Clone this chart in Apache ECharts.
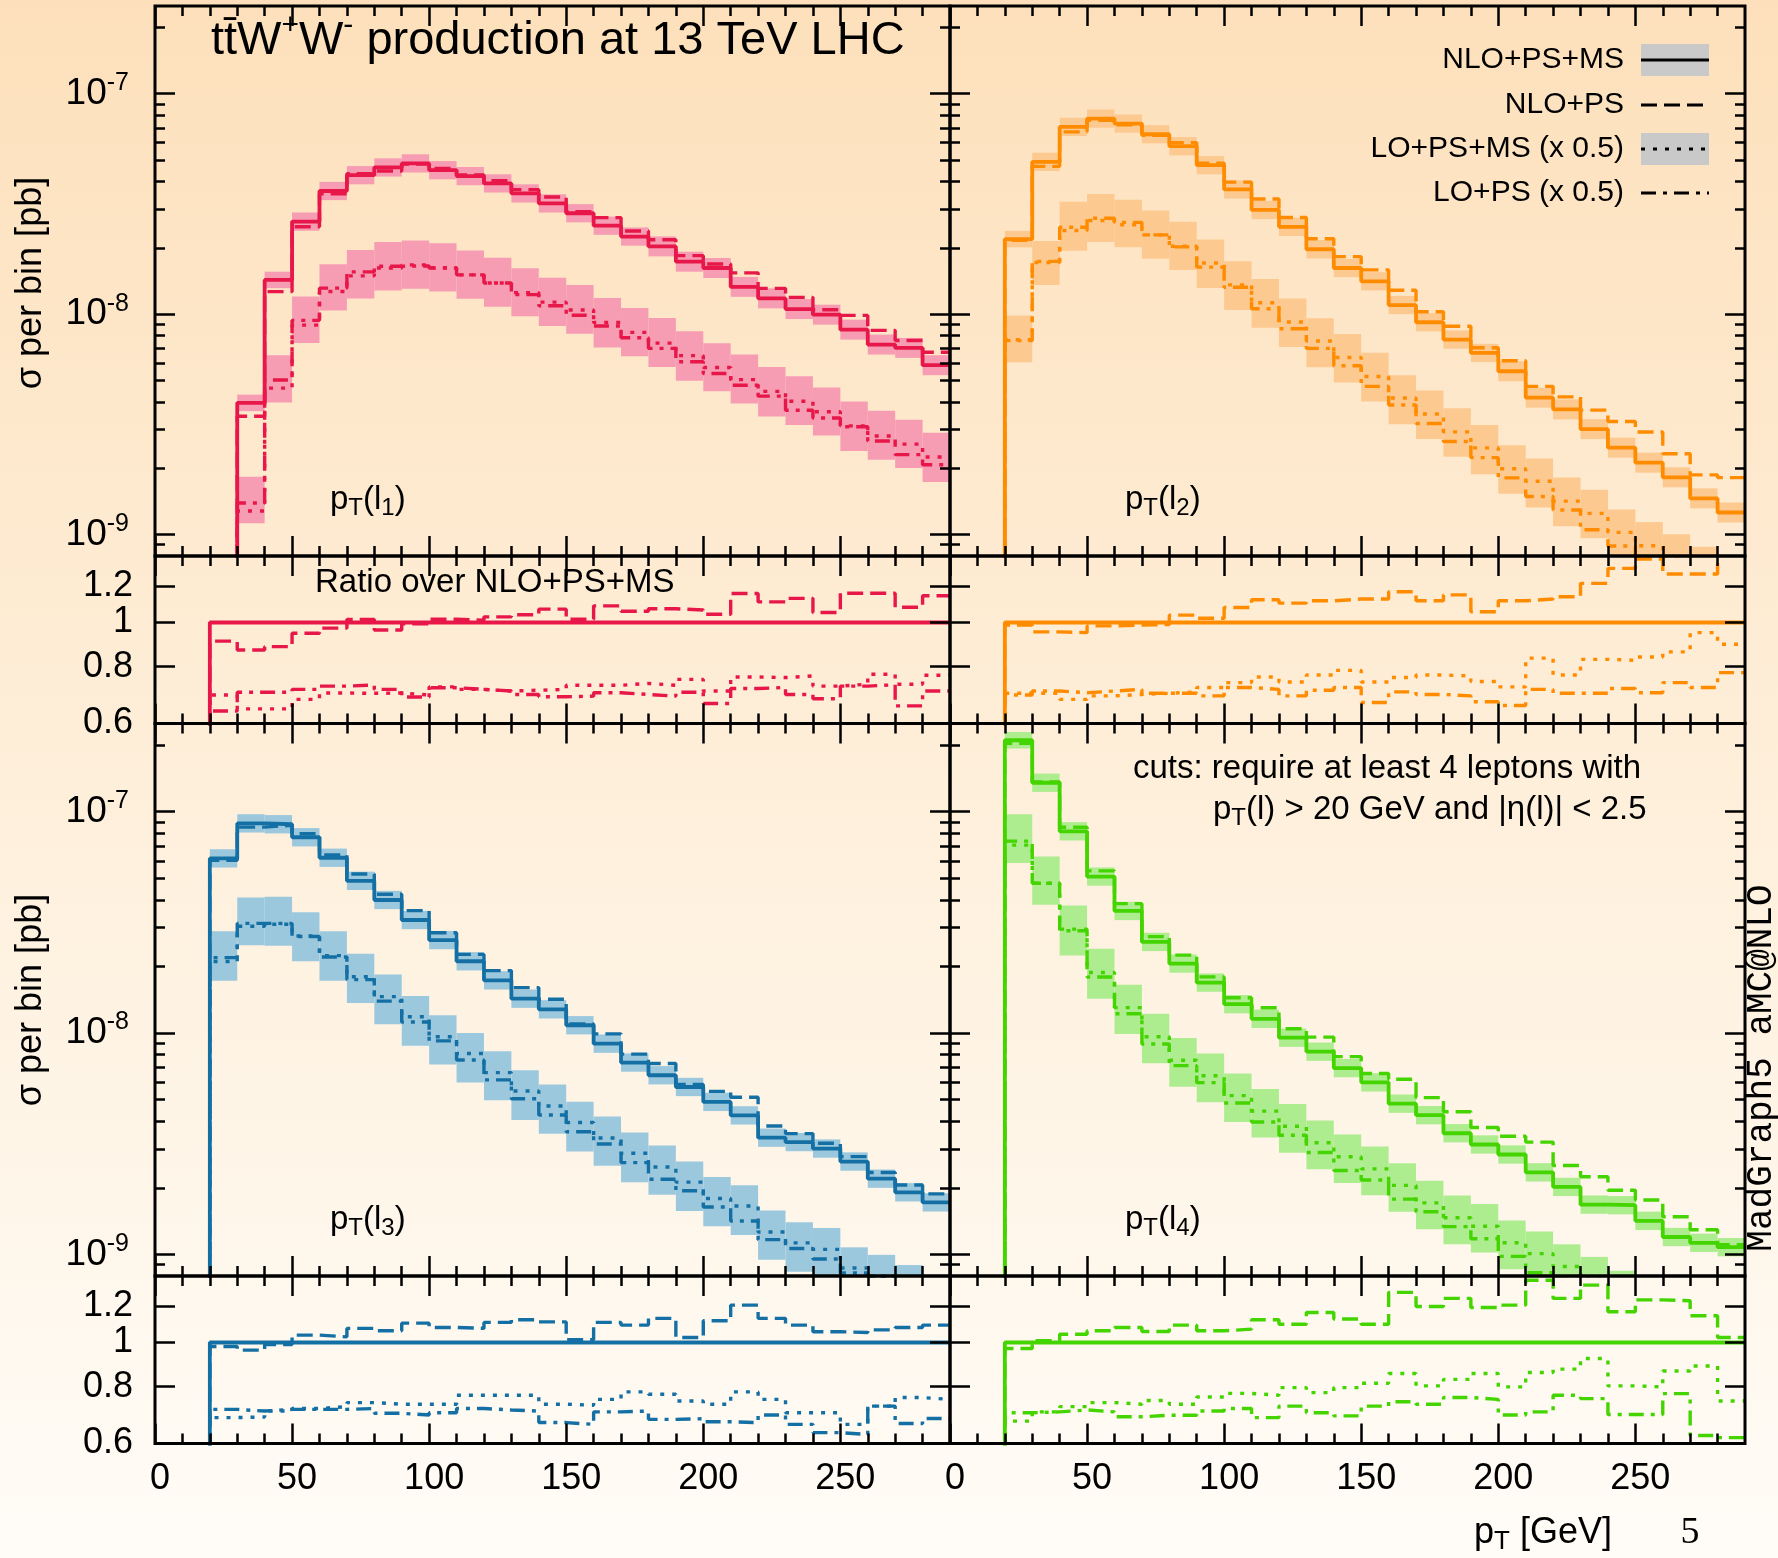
<!DOCTYPE html>
<html><head><meta charset="utf-8">
<script src="https://cdn.jsdelivr.net/npm/echarts@6/dist/echarts.min.js"></script>
<style>html,body{margin:0;padding:0;background:#fff}#c{width:1778px;height:1558px}</style>
</head><body><div id="c"></div>
<script>
// ---------------- data ----------------
const binEdges = [20,30,40,50,60,70,80,90,100,110,120,130,140,150,160,170,180,190,200,210,220,230,240,250,260,270,280,290];
const xTickLabels = [0,50,100,150,200,250];
const xMinorTicks = [10,20,30,40,60,70,80,90,110,120,130,140,160,170,180,190,210,220,230,240,260,270,280];
const yMainTicks = [1e-9,1e-8,1e-7];
const yMinorTicks = [9e-10,2e-9,3e-9,4e-9,5e-9,6e-9,7e-9,8e-9,9e-9,2e-8,3e-8,4e-8,5e-8,6e-8,7e-8,8e-8,9e-8,2e-7];
const yRatioTicks = [0.6,0.8,1,1.2];
const yMainRange = [8e-10,2.5e-7];
const yRatioRange = [0.6,1.4];
const xRange = [0,290];

// pT(l1)
const nloMS_l1 = [5e-10,3.96e-9,1.43e-8,2.63e-8,3.62e-8,4.27e-8,4.63e-8,4.83e-8,4.50e-8,4.23e-8,3.92e-8,3.53e-8,3.18e-8,2.87e-8,2.52e-8,2.25e-8,2.03e-8,1.73e-8,1.62e-8,1.33e-8,1.18e-8,1.055e-8,9.95e-9,8.51e-9,7.28e-9,7.03e-9,5.87e-9];
const rNLOPS_l1 = [0.91,0.87,0.885,0.947,0.972,1.015,0.963,0.993,1.017,1.012,1.029,1.04,1.07,1.017,1.088,1.059,1.072,1.065,1.043,1.158,1.11,1.13,1.052,1.16,1.16,1.08,1.145];
const rLOMS_l1 = [0.693,0.646,0.646,0.678,0.70,0.699,0.70,0.693,0.722,0.713,0.707,0.71,0.713,0.728,0.728,0.735,0.728,0.75,0.707,0.759,0.757,0.763,0.725,0.732,0.77,0.732,0.766];
const rLOPS_l1 = [0.639,0.703,0.703,0.713,0.725,0.729,0.713,0.686,0.719,0.713,0.707,0.695,0.687,0.689,0.701,0.695,0.689,0.703,0.664,0.716,0.72,0.695,0.68,0.725,0.73,0.656,0.707];
const nloErr_l1 = [10,9,9,10,10,10,10,10,10,10,10,10,10,10,10,10,11,11,11,11,11,11,11,11,11,11,11];
const loUp_l1 = [40,43,41,35,33,31,31,29,29,29,30,29,29,30,29,29,30,29,29,30,29,30,29,29,30,29,29];
const loDn_l1 = [12,12,14,17,18,21,21,22,22,22,22,22,22,22,23,22,22,23,22,22,23,22,22,23,22,22,23];

// pT(l2)
const nloMS_l2 = [2.19e-8,4.91e-8,7.07e-8,7.71e-8,7.32e-8,6.55e-8,5.78e-8,4.74e-8,3.68e-8,2.97e-8,2.49e-8,1.97e-8,1.62e-8,1.41e-8,1.10e-8,9.19e-9,7.67e-9,6.67e-9,5.51e-9,4.18e-9,3.70e-9,3.01e-9,2.48e-9,2.12e-9,1.82e-9,1.46e-9,1.26e-9];
const rNLOPS_l2 = [0.987,0.954,0.95,0.983,0.987,0.99,1.038,1.022,1.079,1.122,1.103,1.116,1.126,1.126,1.168,1.116,1.15,1.056,1.116,1.126,1.139,1.219,1.315,1.379,1.278,1.278,1.44];
const rLOMS_l2 = [0.699,0.699,0.678,0.69,0.695,0.699,0.704,0.72,0.738,0.759,0.74,0.767,0.785,0.74,0.757,0.767,0.763,0.742,0.722,0.835,0.767,0.83,0.826,0.84,0.862,0.95,0.896];
const rLOPS_l2 = [0.693,0.707,0.701,0.707,0.713,0.699,0.699,0.69,0.72,0.713,0.69,0.71,0.72,0.667,0.704,0.695,0.69,0.67,0.657,0.713,0.699,0.699,0.716,0.701,0.738,0.72,0.776];
const nloErr_l2 = [9,10,10,10,10,10,10,10,10,10,10,10,10,10,10,10,10,10,11,11,11,11,11,11,11,11,11];
const loUp_l2 = [29,25,35,32,30,29,29,28,28,28,28,27,28,28,27,28,28,27,28,27,28,28,27,28,28,27,28];
const loDn_l2 = [21,21,19,20,21,22,22,23,23,23,23,24,23,23,24,23,23,24,23,24,23,23,24,23,23,24,23];

// pT(l3)
const nloMS_l3 = [6.15e-8,8.85e-8,8.77e-8,7.66e-8,6.19e-8,4.87e-8,3.99e-8,3.24e-8,2.63e-8,2.11e-8,1.73e-8,1.43e-8,1.28e-8,1.085e-8,8.96e-9,7.36e-9,6.45e-9,5.71e-9,4.89e-9,4.25e-9,3.37e-9,3.22e-9,3.01e-9,2.63e-9,2.20e-9,1.91e-9,1.72e-9];
const rNLOPS_l3 = [0.98,0.962,0.99,1.038,1.029,1.074,1.061,1.103,1.079,1.074,1.107,1.122,1.11,1.014,1.107,1.092,1.13,1.026,1.116,1.208,1.13,1.092,1.056,1.052,1.066,1.079,1.092];
const rLOMS_l3 = [0.684,0.686,0.707,0.716,0.723,0.738,0.732,0.732,0.732,0.766,0.766,0.766,0.732,0.728,0.75,0.779,0.77,0.744,0.732,0.779,0.75,0.701,0.701,0.661,0.725,0.757,0.75];
const rLOPS_l3 = [0.713,0.707,0.713,0.713,0.713,0.716,0.699,0.693,0.701,0.716,0.711,0.707,0.667,0.661,0.704,0.707,0.678,0.68,0.67,0.667,0.693,0.661,0.634,0.628,0.725,0.664,0.681];
const nloErr_l3 = [10,10,10,10,10,10,10,10,10,10,10,10,10,10,10,10,10,10,10,10,10,10,10,10,10,10,10];
const loUp_l3 = [37,35,33,28,29,27,26,24,25,24,25,24,25,24,25,24,25,24,25,24,25,24,25,24,25,24,25];
const loDn_l3 = [18,18,20,23,23,24,25,26,25,26,25,26,25,26,25,26,25,26,25,26,25,26,25,26,25,26,25];

// pT(l4)
const nloMS_l4 = [2.10e-7,1.35e-7,8.15e-8,5.09e-8,3.56e-8,2.58e-8,2.06e-8,1.69e-8,1.35e-8,1.16e-8,9.53e-9,8.24e-9,6.95e-9,5.99e-9,4.80e-9,4.26e-9,3.53e-9,3.14e-9,2.83e-9,2.35e-9,2.02e-9,1.68e-9,1.67e-9,1.42e-9,1.20e-9,1.13e-9,1.08e-9];
const rNLOPS_l4 = [0.97,1.009,1.043,1.061,1.079,1.057,1.092,1.061,1.07,1.122,1.097,1.164,1.126,1.097,1.289,1.2,1.25,1.194,1.208,1.37,1.25,1.337,1.168,1.241,1.235,1.145,1.026];
const rLOMS_l4 = [0.672,0.704,0.723,0.738,0.732,0.746,0.732,0.759,0.773,0.766,0.796,0.776,0.796,0.814,0.855,0.803,0.83,0.855,0.799,0.859,0.874,0.922,0.803,0.799,0.866,0.888,0.744];
const rLOPS_l4 = [0.701,0.704,0.711,0.704,0.687,0.692,0.692,0.707,0.716,0.684,0.725,0.701,0.69,0.725,0.741,0.732,0.757,0.75,0.693,0.704,0.766,0.753,0.695,0.695,0.772,0.625,0.618];
const nloErr_l4 = [9,10,10,10,10,10,10,10,10,10,10,10,10,10,10,10,10,10,10,10,10,10,10,10,10,10,10];
const loUp_l4 = [38,32,28,28,27,27,26,26,26,26,26,26,26,26,26,26,26,26,26,26,26,26,26,26,26,26,26];
const loDn_l4 = [17,20,24,24,24,24,24,24,24,24,24,24,24,24,24,24,24,24,24,24,24,24,24,24,24,24,24];

// ---------------- chart ----------------
const FONT = "'Liberation Sans', Arial, Helvetica, sans-serif";
const L10 = Math.log10;
const panels = [
  {nlo:nloMS_l1,rA:rNLOPS_l1,rB:rLOMS_l1,rC:rLOPS_l1,eN:nloErr_l1,eU:loUp_l1,eD:loDn_l1,color:'#e8174a',band:'#f79db3',col:0,row:0},
  {nlo:nloMS_l2,rA:rNLOPS_l2,rB:rLOMS_l2,rC:rLOPS_l2,eN:nloErr_l2,eU:loUp_l2,eD:loDn_l2,color:'#ff8c00',band:'#fcc990',col:1,row:0},
  {nlo:nloMS_l3,rA:rNLOPS_l3,rB:rLOMS_l3,rC:rLOPS_l3,eN:nloErr_l3,eU:loUp_l3,eD:loDn_l3,color:'#1470a4',band:'#9cc8de',col:0,row:1},
  {nlo:nloMS_l4,rA:rNLOPS_l4,rB:rLOMS_l4,rC:rLOPS_l4,eN:nloErr_l4,eU:loUp_l4,eD:loDn_l4,color:'#44d400',band:'#aeec90',col:1,row:1}
];
const colX = [155, 950], PW = 795;
const mainTop = [6, 723.5], mainH = [550, 552.5];
const ratTop = [556, 1276], ratH = 167.5;

const grids = [], xAxis = [], yAxis = [], series = [];
const tickLine = {color:'#000', width:2.5};
const noLine = {show:false, onZero:false};
function addGrid(left, top, width, height) {
  grids.push({left, top, width, height, show:true, borderColor:'#000', borderWidth:3, backgroundColor:'transparent', z:10});
  return grids.length - 1;
}
function addX(g, showLabels) {
  const base = xAxis.length;
  ['bottom','top'].forEach(pos => {
    xAxis.push({type:'value', gridIndex:g, position:pos, min:xRange[0], max:xRange[1], z:10,
      axisLine:noLine, splitLine:{show:false},
      axisTick:{show:true, inside:true, length:20, lineStyle:tickLine, customValues:xTickLabels},
      axisLabel:{show: showLabels && pos === 'bottom', customValues:xTickLabels, fontSize:36, fontFamily:FONT, color:'#000', margin:18, padding:[0,0,0,10]}});
    xAxis.push({type:'value', gridIndex:g, position:pos, min:xRange[0], max:xRange[1], z:10,
      axisLine:noLine, splitLine:{show:false},
      axisTick:{show:true, inside:true, length:10, lineStyle:tickLine, customValues:xMinorTicks},
      axisLabel:{show:false, customValues:xMinorTicks}});
  });
  return base;
}
function addYMain(g, showLabels) {
  const base = yAxis.length;
  const maj = yMainTicks.map(L10), mnr = yMinorTicks.map(L10);
  ['left','right'].forEach(pos => {
    yAxis.push({type:'value', gridIndex:g, position:pos, min:L10(yMainRange[0]), max:L10(yMainRange[1]), z:10,
      axisLine:noLine, splitLine:{show:false},
      axisTick:{show:true, inside:true, length:20, lineStyle:tickLine, customValues:maj},
      axisLabel:{show: showLabels && pos === 'left', customValues:maj, margin:26,
        formatter: v => '{a|10}{e|' + Math.round(v) + '}',
        rich:{a:{fontSize:37, fontFamily:FONT, color:'#000', lineHeight:46},
              e:{fontSize:25, fontFamily:FONT, color:'#000', lineHeight:24, verticalAlign:'top'}}}});
    yAxis.push({type:'value', gridIndex:g, position:pos, min:L10(yMainRange[0]), max:L10(yMainRange[1]), z:10,
      axisLine:noLine, splitLine:{show:false},
      axisTick:{show:true, inside:true, length:10, lineStyle:tickLine, customValues:mnr},
      axisLabel:{show:false, customValues:mnr}});
  });
  return base;
}
function addYRatio(g, showLabels) {
  const base = yAxis.length;
  const maj = yRatioTicks.map(L10);
  ['left','right'].forEach(pos => {
    yAxis.push({type:'value', gridIndex:g, position:pos, min:L10(yRatioRange[0]), max:L10(yRatioRange[1]), z:10,
      axisLine:noLine, splitLine:{show:false},
      axisTick:{show:true, inside:true, length:20, lineStyle:tickLine, customValues:maj},
      axisLabel:{show: showLabels && pos === 'left', customValues:maj, margin:22, fontSize:36, fontFamily:FONT, color:'#000',
        formatter: v => String(Math.round(Math.pow(10, v) * 10) / 10)}});
  });
  return base;
}
function stepData(vals, floor) {
  const d = [[binEdges[0], floor]];
  vals.forEach((v, i) => d.push([binEdges[i], v]));
  d.push([binEdges[binEdges.length - 1], vals[vals.length - 1]]);
  return d;
}
function bandSeries(xi, yi, data, fill) {
  return {type:'custom', xAxisIndex:xi, yAxisIndex:yi, data, z:1, silent:true,
    renderItem: (params, api) => {
      const p0 = api.coord([api.value(0), api.value(3)]);
      const p1 = api.coord([api.value(1), api.value(2)]);
      const cs = params.coordSys;
      const r = echarts.graphic.clipRectByRect(
        {x:p0[0], y:p0[1], width:p1[0]-p0[0], height:p1[1]-p0[1]},
        {x:cs.x, y:cs.y, width:cs.width, height:cs.height});
      if (!r) return;
      return {type:'rect', shape:r, style:{fill}};
    }};
}
const DASH = [16,7], DOT = [4,8], DASHDOT = [15,7,4,7];
function lineSeries(xi, yi, data, color, width, type, z) {
  return {type:'line', xAxisIndex:xi, yAxisIndex:yi, data, step:'end', symbol:'none', showSymbol:false,
    clip:true, silent:true, z, lineStyle:{color, width, type}};
}

panels.forEach(p => {
  const gm = addGrid(colX[p.col], mainTop[p.row], PW, mainH[p.row]);
  const gr = addGrid(colX[p.col], ratTop[p.row], PW, ratH);
  const xm = addX(gm, false), xr = addX(gr, p.row === 1);
  const ym = addYMain(gm, p.col === 0), yr = addYRatio(gr, p.col === 0);
  const nlo = p.nlo;
  const nlops = nlo.map((v, i) => v * p.rA[i]);
  const loms = nlo.map((v, i) => 0.5 * v * p.rB[i]);
  const lops = nlo.map((v, i) => 0.5 * v * p.rC[i]);
  const nloBand = nlo.map((v, i) => [binEdges[i], binEdges[i+1], L10(v / (1 + p.eN[i]/100)), L10(v * (1 + p.eN[i]/100))]);
  const loBand = loms.map((v, i) => [binEdges[i], binEdges[i+1], L10(v * (1 - p.eD[i]/100)), L10(v * (1 + p.eU[i]/100))]);
  series.push(bandSeries(xm, ym, nloBand, p.band));
  series.push(bandSeries(xm, ym, loBand, p.band));
  series.push(lineSeries(xm, ym, stepData(nlo.map(L10), -14), p.color, 3.8, 'solid', 3));
  series.push(lineSeries(xm, ym, stepData(nlops.map(L10), -14), p.color, 3.4, DASH, 4));
  series.push(lineSeries(xm, ym, stepData(loms.map(L10), -14), p.color, 3.4, DOT, 5));
  series.push(lineSeries(xm, ym, stepData(lops.map(L10), -14), p.color, 3.4, DASHDOT, 6));
  // ratio panel
  series.push(lineSeries(xr, yr, stepData(nlo.map(v => L10(v / v)), -2), p.color, 3.8, 'solid', 3));
  series.push(lineSeries(xr, yr, stepData(p.rA.map(L10), -2), p.color, 3.4, DASH, 4));
  series.push(lineSeries(xr, yr, stepData(p.rB.map(L10), -2), p.color, 3.4, DOT, 5));
  series.push(lineSeries(xr, yr, stepData(p.rC.map(L10), -2), p.color, 3.4, DASHDOT, 6));
});

// ---------------- texts / legend ----------------
const T = (x, y, text, size, extra) => ({type:'text', x, y, z:20, silent:true,
  style:Object.assign({text, fontSize:size, fontFamily:FONT, fill:'#000', align:'left', verticalAlign:'middle'}, extra || {})});
const subRich = (size, sub) => ({a:{fontSize:size, fontFamily:FONT, fill:'#000', lineHeight:size+8},
  b:{fontSize:sub, fontFamily:FONT, fill:'#000', lineHeight:sub, verticalAlign:'bottom'}});
const legendRows = [
  {label:'NLO+PS+MS', y:60, dash:'solid', box:true},
  {label:'NLO+PS', y:105, dash:DASH, box:false},
  {label:'LO+PS+MS (x 0.5)', y:149, dash:DOT, box:true},
  {label:'LO+PS (x 0.5)', y:193, dash:DASHDOT, box:false}
];
const graphic = [];
graphic.push(T(211, 41, '{a|tt\u0304W}{s|+}{a|W}{s|-}{a| production at 13 TeV LHC}', 47, {rich:{
  a:{fontSize:47, fontFamily:FONT, fill:'#000', lineHeight:60},
  s:{fontSize:30, fontFamily:FONT, fill:'#000', lineHeight:30, verticalAlign:'top'}}}));
legendRows.forEach(r => {
  if (r.box) graphic.push({type:'rect', z:19, silent:true, shape:{x:1641, y:r.y-16, width:68, height:32}, style:{fill:'#c9c9c9'}});
  graphic.push({type:'line', z:20, silent:true, shape:{x1:1641, y1:r.y, x2:1709, y2:r.y},
    style:{stroke:'#000', lineWidth:3, lineDash: r.dash === 'solid' ? null : r.dash}});
  graphic.push(T(1624, r.y, r.label, 30, {align:'right'}));
});
graphic.push(T(315, 583, 'Ratio over NLO+PS+MS', 33));
[[330,500,'1'],[1125,500,'2'],[330,1220,'3'],[1125,1220,'4']].forEach(([x,y,n]) => {
  graphic.push(T(x, y, '{a|p}{b|T}{a|(l}{b|' + n + '}{a|)}', 33, {rich:subRich(33, 24)}));
});
graphic.push(T(1133, 769, 'cuts: require at least 4 leptons with', 33));
graphic.push(T(1213, 810, '{a|p}{b|T}{a|(l) > 20 GeV and |\u03b7(l)| < 2.5}', 33, {rich:subRich(33, 24)}));
graphic.push(T(1474, 1533, '{a|p}{b|T}{a| [GeV]}', 36, {rich:subRich(36, 26)}));
graphic.push(T(1690, 1533, '5', 38, {fontFamily:"'Liberation Serif', 'Times New Roman', serif", align:'center'}));
[283, 1000].forEach(y => {
  const e = T(31, y, '\u03c3 per bin [pb]', 36, {align:'center'});
  e.rotation = Math.PI / 2;
  graphic.push(e);
});
const mg = T(1761, 1068, 'MadGraph5 aMC@NLO', 36, {align:'center', fontFamily:"'Liberation Mono', 'DejaVu Sans Mono', monospace"});
mg.rotation = Math.PI / 2;
graphic.push(mg);

const chart = echarts.init(document.getElementById('c'), null, {renderer:'canvas'});
chart.setOption({
  animation:false,
  backgroundColor:{type:'linear', x:0, y:0, x2:0, y2:1, colorStops:[{offset:0, color:'#fde0bb'},{offset:0.5, color:'#feefda'},{offset:1, color:'#fffcf7'}]},
  grid:grids, xAxis, yAxis, series, graphic
});
</script>
</body></html>
